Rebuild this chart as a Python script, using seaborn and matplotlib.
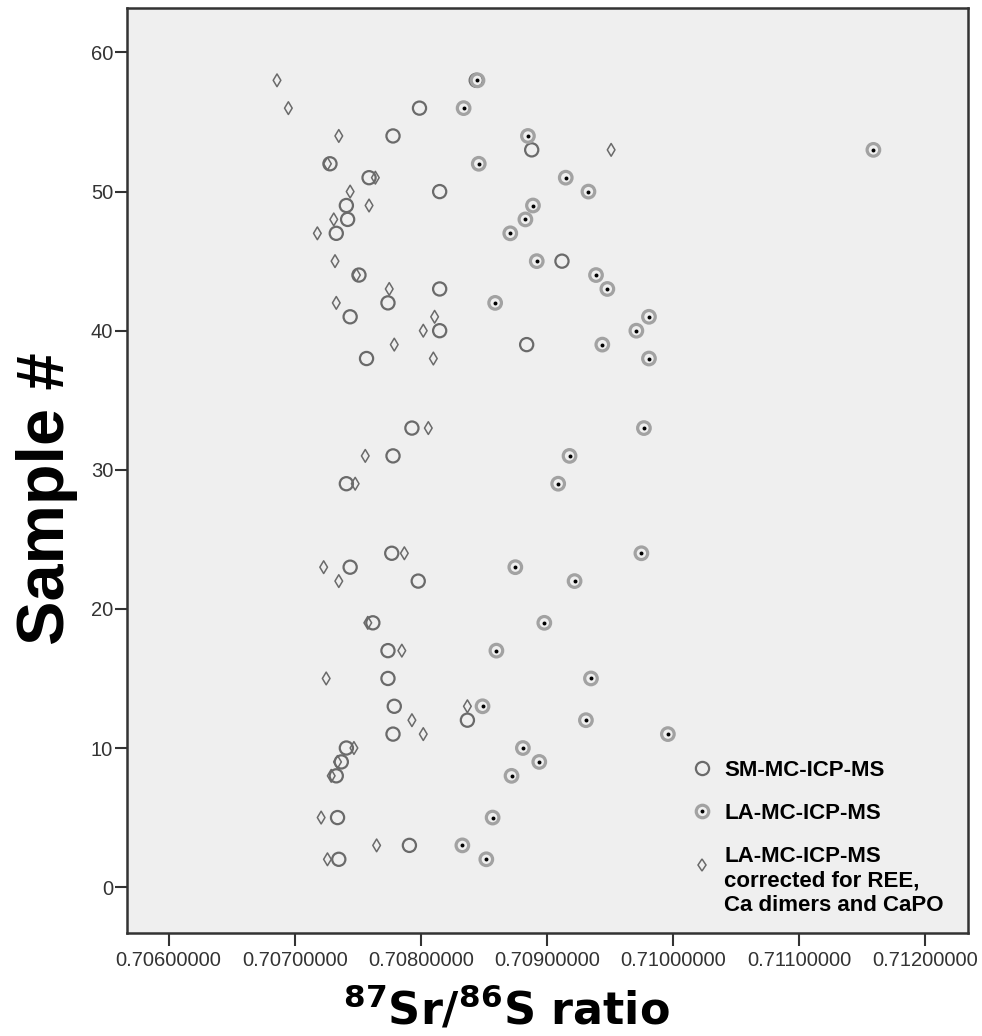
import matplotlib
matplotlib.use("Agg")
import matplotlib.pyplot as plt
import numpy as np
import pandas as pd
import seaborn as sns
from matplotlib.lines import Line2D
from matplotlib.legend_handler import HandlerTuple, HandlerLine2D
from matplotlib.ticker import FormatStrFormatter

# Sample numbers and measured 87Sr/86Sr ratios per method
samples = [58, 56, 54, 53, 52, 51, 50, 49, 48, 47, 45, 44, 43, 42, 41, 40, 39, 38,
           33, 31, 29, 24, 23, 22, 19, 17, 15, 13, 12, 11, 10, 9, 8, 5, 3, 2]

sm_ratio = [0.70844, 0.70799, 0.70778, 0.70888, 0.70728, 0.70759, 0.70815, 0.70741,
            0.70742, 0.70733, 0.70912, 0.70751, 0.70815, 0.70774, 0.70744, 0.70815,
            0.70884, 0.70757, 0.70793, 0.70778, 0.70741, 0.70777, 0.70744, 0.70798,
            0.70762, 0.70774, 0.70774, 0.70779, 0.70837, 0.70778, 0.70741, 0.70737,
            0.70733, 0.70734, 0.70791, 0.70735]

la_ratio = [0.70845, 0.70834, 0.70885, 0.71159, 0.70846, 0.70915, 0.70933, 0.70889,
            0.70883, 0.70871, 0.70892, 0.70939, 0.70948, 0.70859, 0.70981, 0.70971,
            0.70944, 0.70981, 0.70977, 0.70918, 0.70909, 0.70975, 0.70875, 0.70922,
            0.70898, 0.70860, 0.70935, 0.70849, 0.70931, 0.70996, 0.70881, 0.70894,
            0.70872, 0.70857, 0.70833, 0.70852]

la_corrected_ratio = [0.70686, 0.70695, 0.70735, 0.70951, 0.70726, 0.70764, 0.70744,
                      0.70759, 0.70731, 0.70718, 0.70732, 0.70749, 0.70775, 0.70733,
                      0.70811, 0.70802, 0.70779, 0.70810, 0.70806, 0.70756, 0.70748,
                      0.70787, 0.70723, 0.70735, 0.70758, 0.70785, 0.70725, 0.70837,
                      0.70793, 0.70802, 0.70747, 0.70734, 0.70729, 0.70721, 0.70765,
                      0.70726]

x_ticks = [0.706, 0.707, 0.708, 0.709, 0.710, 0.711, 0.712]
y_ticks = [0, 10, 20, 30, 40, 50, 60]

legend_labels = ["SM-MC-ICP-MS", "LA-MC-ICP-MS",
                 "LA-MC-ICP-MS\ncorrected for REE,\nCa dimers and CaPO"]

df = pd.DataFrame({"sample": samples, "sm": sm_ratio, "la": la_ratio,
                   "la_corr": la_corrected_ratio})


class RaisedMarkerHandler(HandlerLine2D):
    """Legend handler that lifts the marker towards the first text line."""

    def __init__(self, dy, **kwargs):
        super().__init__(**kwargs)
        self.dy = dy

    def create_artists(self, legend, orig_handle, xdescent, ydescent,
                       width, height, fontsize, trans):
        artists = super().create_artists(legend, orig_handle, xdescent, ydescent,
                                         width, height, fontsize, trans)
        for art in artists:
            art.set_ydata(np.asarray(art.get_ydata(), dtype=float) + self.dy)
        return artists


sns.set_theme(style="ticks")
plt.rcParams["font.family"] = ["Liberation Sans", "DejaVu Sans"]
plt.rcParams["mathtext.default"] = "regular"

fig = plt.figure(figsize=(9.82, 10.36), dpi=100)
ax = fig.add_axes([0.1293, 0.0994, 0.8564, 0.8929])
ax.set_facecolor("#efefef")

ring_dark = "#6a6a6a"
ring_light = "#a2a2a2"

# SM-MC-ICP-MS: open circles
sns.scatterplot(data=df, x="sm", y="sample", marker="o", s=90,
                facecolor="none", edgecolor=ring_dark, linewidth=1.6,
                ax=ax, zorder=3, legend=False)
# LA-MC-ICP-MS: light ring with a black centre dot
sns.scatterplot(data=df, x="la", y="sample", marker="o", s=82,
                facecolor="none", edgecolor=ring_light, linewidth=2.3,
                ax=ax, zorder=3, legend=False)
sns.scatterplot(data=df, x="la", y="sample", marker="o", s=8,
                color="black", linewidth=0, ax=ax, zorder=4, legend=False)
# Corrected LA-MC-ICP-MS: thin open diamonds
sns.scatterplot(data=df, x="la_corr", y="sample", marker="d", s=42,
                facecolor="none", edgecolor=ring_dark, linewidth=1.1,
                ax=ax, zorder=3, legend=False)

ax.set_xlim(0.70567, 0.71234)
ax.set_ylim(-3.3, 63.2)
ax.set_xticks(x_ticks)
ax.set_yticks(y_ticks)
ax.xaxis.set_major_formatter(FormatStrFormatter("%.8f"))

for side in ["left", "right", "top", "bottom"]:
    ax.spines[side].set_visible(True)
    ax.spines[side].set_color("#333333")
    ax.spines[side].set_linewidth(1.8)

ax.tick_params(axis="both", direction="out", length=9, width=1.5,
               color="#333333", labelsize=14.5, labelcolor="#333333")
ax.tick_params(axis="x", pad=4)
ax.tick_params(axis="y", pad=1)

ax.set_xlabel(r"$^{87}$Sr/$^{86}$S ratio", fontsize=32, fontweight="bold",
              fontfamily="DejaVu Sans", color="black")
ax.xaxis.set_label_coords(0.4507, -0.057)
ax.set_ylabel("Sample #", fontsize=48, fontweight="bold", color="black")
ax.yaxis.set_label_coords(-0.058, 0.47)

handles = [
    Line2D([], [], marker="o", ls="none", ms=9.5, mfc="none", mec=ring_dark, mew=1.6),
    (Line2D([], [], marker="o", ls="none", ms=9.0, mfc="none", mec=ring_light, mew=2.3),
     Line2D([], [], marker="o", ls="none", ms=2.8, color="black", mew=0)),
    Line2D([], [], marker="d", ls="none", ms=6.5, mfc="none", mec=ring_dark, mew=1.1),
]
leg = ax.legend(handles, legend_labels,
                handler_map={tuple: HandlerTuple(ndivide=1),
                             handles[2]: RaisedMarkerHandler(12)},
                loc="upper left", bbox_to_anchor=(0.7037, 0.2665),
                bbox_transform=fig.transFigure, frameon=False,
                prop={"weight": "bold", "size": 16}, handlelength=0.95,
                handletextpad=0.55, labelspacing=1.0, borderpad=0, borderaxespad=0)
for t in leg.get_texts():
    t.set_color("black")

fig.savefig("out.png", dpi=100)
